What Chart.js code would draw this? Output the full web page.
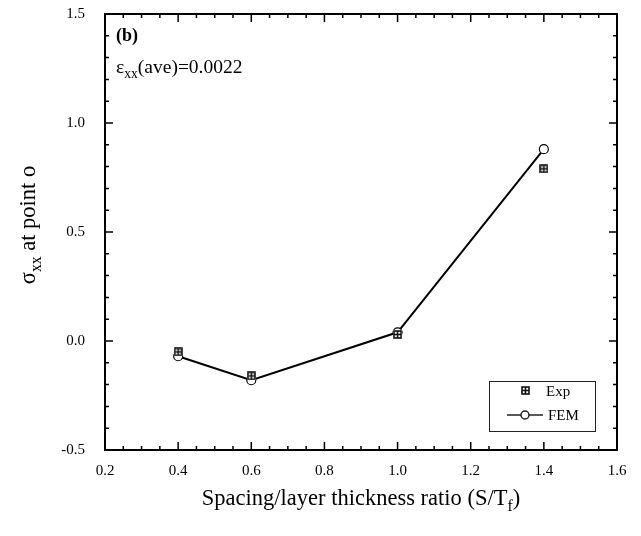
<!DOCTYPE html>
<html>
<head>
<meta charset="utf-8">
<script src="https://cdn.jsdelivr.net/npm/chart.js@4/dist/chart.umd.min.js"></script>
<style>
  html, body { margin: 0; padding: 0; background: #fff; }
  #wrap { position: relative; width: 641px; height: 536px; }
</style>
</head>
<body>
<div id="wrap"><canvas id="chart" width="641" height="536"></canvas></div>
<script>
// spacing ratio S/Tf
const ratios = [0.4, 0.6, 1.0, 1.4];
// sigma_xx at point o
const expValues = [-0.05, -0.16, 0.03, 0.79];
const femValues = [-0.07, -0.18, 0.04, 0.88];
const xTicks = [0.2, 0.4, 0.6, 0.8, 1.0, 1.2, 1.4, 1.6];
const yTicks = [-0.5, 0.0, 0.5, 1.0, 1.5];

const SERIF = '"Liberation Serif", "DejaVu Serif", serif';

// boxed-cross marker used for the experimental points
function boxMarker() {
  const c = document.createElement('canvas');
  c.width = 9; c.height = 9;
  const g = c.getContext('2d');
  g.fillStyle = '#fff';
  g.fillRect(0, 0, 9, 9);
  g.strokeStyle = '#111';
  g.lineWidth = 1.6;
  g.strokeRect(1, 1, 7, 7);
  g.beginPath();
  g.moveTo(4.5, 1); g.lineTo(4.5, 8);
  g.moveTo(1, 4.5); g.lineTo(8, 4.5);
  g.stroke();
  return c;
}
const expMarker = boxMarker();

// subscript-aware text: parts = [[text, isSub], ...]
function drawParts(ctx, parts, x, y, size, align, weight) {
  const w = weight ? weight + ' ' : '';
  const widths = parts.map(([t, sub]) => {
    ctx.font = w + (sub ? size * 0.7 : size) + 'px ' + SERIF;
    return ctx.measureText(t).width;
  });
  const total = widths.reduce((a, b) => a + b, 0);
  let cx = align === 'center' ? x - total / 2 : x;
  parts.forEach(([t, sub], i) => {
    ctx.font = w + (sub ? size * 0.7 : size) + 'px ' + SERIF;
    ctx.fillText(t, cx, sub ? y + size * 0.25 : y);
    cx += widths[i];
  });
}

const framePlugin = {
  id: 'frame',
  afterDraw(chart) {
    const { ctx, chartArea: a, scales: { x, y } } = chart;
    ctx.save();
    ctx.strokeStyle = '#000';
    ctx.lineWidth = 2;
    ctx.strokeRect(a.left, a.top, a.right - a.left, a.bottom - a.top);

    // inward ticks on all four sides
    ctx.lineWidth = 1.5;
    ctx.beginPath();
    for (let i = 0; i <= 28; i++) {
      const v = 0.2 + i * 0.05;
      const px = x.getPixelForValue(v);
      const len = i % 4 === 0 ? 8 : 4;
      ctx.moveTo(px, a.bottom); ctx.lineTo(px, a.bottom - len);
      ctx.moveTo(px, a.top); ctx.lineTo(px, a.top + len);
    }
    for (let i = 0; i <= 20; i++) {
      const v = -0.5 + i * 0.1;
      const py = y.getPixelForValue(v);
      const len = i % 5 === 0 ? 8 : 4;
      ctx.moveTo(a.left, py); ctx.lineTo(a.left + len, py);
      ctx.moveTo(a.right, py); ctx.lineTo(a.right - len, py);
    }
    ctx.stroke();

    ctx.fillStyle = '#000';
    ctx.textBaseline = 'alphabetic';
    ctx.textAlign = 'left';
    drawParts(ctx, [['(b)', false]], a.left + 11, a.top + 27, 18, 'left', 'bold');
    drawParts(ctx, [['\u03b5', false], ['xx', true], ['(ave)=0.0022', false]], a.left + 11, a.top + 59, 19.5, 'left');

    // axis titles
    drawParts(ctx, [['Spacing/layer thickness ratio (S/T', false], ['f', true], [')', false]],
      361, 505, 22.5, 'center');
    ctx.save();
    ctx.translate(35, 225);
    ctx.rotate(-Math.PI / 2);
    drawParts(ctx, [['\u03c3', false], ['xx', true], [' at point o', false]], 0, 0, 22.5, 'center');
    ctx.restore();

    // legend box
    const lx = 489, ly = 381, lw = 106, lh = 50;
    ctx.lineWidth = 1;
    ctx.strokeStyle = '#222';
    ctx.strokeRect(lx + 0.5, ly + 0.5, lw, lh);
    ctx.drawImage(expMarker, 521, 386);
    ctx.font = '15px ' + SERIF;
    ctx.fillText('Exp', 546, 396);
    ctx.lineWidth = 1.5;
    ctx.beginPath();
    ctx.moveTo(507, 415); ctx.lineTo(543, 415);
    ctx.stroke();
    ctx.beginPath();
    ctx.arc(525, 415, 4, 0, Math.PI * 2);
    ctx.fillStyle = '#fff';
    ctx.fill();
    ctx.stroke();
    ctx.fillStyle = '#000';
    ctx.fillText('FEM', 548, 420);
    ctx.restore();
  }
};

new Chart(document.getElementById('chart'), {
  type: 'line',
  data: {
    datasets: [
      {
        label: 'FEM',
        data: ratios.map((r, i) => ({ x: r, y: femValues[i] })),
        borderColor: '#000',
        borderWidth: 2,
        pointStyle: 'circle',
        pointRadius: 4.5,
        pointBorderWidth: 1.2,
        pointBackgroundColor: '#fff',
        pointBorderColor: '#000',
        tension: 0,
        order: 2
      },
      {
        label: 'Exp',
        data: ratios.map((r, i) => ({ x: r, y: expValues[i] })),
        showLine: false,
        pointStyle: expMarker,
        order: 1
      }
    ]
  },
  options: {
    responsive: false,
    animation: false,
    layout: { padding: { left: 0, right: 24, top: 14, bottom: 0 } },
    plugins: { legend: { display: false }, tooltip: { enabled: false } },
    scales: {
      x: {
        type: 'linear',
        min: 0.2, max: 1.6,
        afterBuildTicks: (s) => { s.ticks = xTicks.map(v => ({ value: v })); },
        afterFit: (s) => { s.height = 86; },
        grid: { display: false },
        border: { display: false },
        ticks: {
          color: '#000',
          padding: 4,
          font: { family: SERIF, size: 15 },
          callback: (v) => v.toFixed(1)
        }
      },
      y: {
        type: 'linear',
        min: -0.5, max: 1.5,
        afterBuildTicks: (s) => { s.ticks = yTicks.map(v => ({ value: v })); },
        afterFit: (s) => { s.width = 105; s.paddingTop = 0; s.paddingBottom = 0; },
        grid: { display: false },
        border: { display: false },
        ticks: {
          color: '#000',
          padding: 12,
          font: { family: SERIF, size: 15, lineHeight: 0.6 },
          callback: (v) => v.toFixed(1)
        }
      }
    }
  },
  plugins: [framePlugin]
});
</script>
</body>
</html>
